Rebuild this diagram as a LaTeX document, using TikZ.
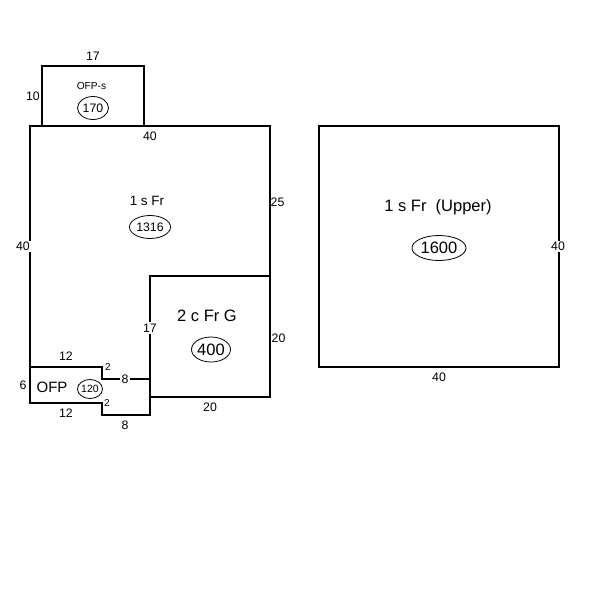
\documentclass[tikz,border=0pt]{standalone}
\usepackage{fontspec}
\setmainfont{Liberation Sans}
\usetikzlibrary{shapes.geometric}
\tikzset{
  wall/.style={draw=black,line width=2pt,line cap=rect,line join=miter},
  dim/.style={font=\fontsize{12.3}{14}\selectfont,inner sep=0.5pt,text=black},
  dimw/.style={dim,fill=white,inner sep=1.5pt},
  dimsmall/.style={font=\fontsize{10}{12}\selectfont,inner sep=0pt},
  lbl/.style={font=\fontsize{13.5}{16}\selectfont,inner sep=0pt},
  lblbig/.style={font=\fontsize{16.5}{18}\selectfont,inner sep=0pt},
  lblofp/.style={font=\fontsize{15}{18}\selectfont,inner sep=0pt},
  lblsmall/.style={font=\fontsize{10.2}{12}\selectfont,inner sep=0pt},
  area/.style={draw=black,line width=0.8pt,ellipse,inner sep=0pt,font=\fontsize{12.3}{14}\selectfont},
}
\begin{document}
\begin{tikzpicture}[x=1pt,y=-1pt]
\useasboundingbox (0,0) rectangle (600,600);
\fill[white] (0,0) rectangle (600,600);
% walls
\coordinate (a) at (30,126);\coordinate (b) at (270,126);\coordinate (c) at (270,397);
\coordinate (d) at (150,397);\coordinate (e) at (150,276);\coordinate (f) at (270,276);
\coordinate (g) at (150,415);\coordinate (h) at (102,415);\coordinate (i) at (102,403);
\coordinate (j) at (30,403);\coordinate (k) at (30,367);\coordinate (l) at (102,367);
\coordinate (m) at (102,379);\coordinate (n) at (150,379);
\coordinate (o) at (42,126);\coordinate (p) at (42,66);\coordinate (q) at (144,66);\coordinate (r) at (144,126);
\coordinate (s) at (319,126);\coordinate (t) at (559,126);\coordinate (u) at (559,367);\coordinate (v) at (319,367);
\draw[wall] (a)--(b)--(c)--(d);
\draw[wall] (f)--(e)--(g)--(h)--(i)--(j)--(a);
\draw[wall] (k)--(l)--(m)--(n);
\draw[wall] (o)--(p)--(q)--(r);
\draw[wall] (s)--(t)--(u)--(v)--cycle;
% dimensions
\node[dim] (d1) at (93,56.5) {17};
\node[dim] (d2) at (33,96) {10};
\node[dim] (d3) at (150,136.5) {40};
\node[dimw] (d4) at (23,246.5) {40};
\node[dim] (d5) at (277.5,202) {25};
\node[dim] (d6) at (278.5,338) {20};
\node[dimw] (d7) at (150,328) {17};
\node[dim] (d8) at (210,407.5) {20};
\node[dim] (d9) at (66,356.5) {12};
\node[dim] (d10) at (66,413.5) {12};
\node[dim] (d11) at (23,385) {6};
\node[dimw] (d12) at (125,379.5) {8};
\node[dim] (d13) at (125,425.5) {8};
\node[dimsmall] (d14) at (108,367.5) {2};
\node[dimsmall] (d15) at (107,403.5) {2};
\node[dimw] (d16) at (558,246.5) {40};
\node[dim] (d17) at (439,377.5) {40};
% room labels
\node[lblsmall] (t1) at (91.5,85.5) {OFP-s};
\node[area,minimum width=31pt,minimum height=23pt] (e1) at (93,108) {170};
\node[lbl] (t2) at (147,200.5) {1 s Fr};
\node[area,minimum width=41pt,minimum height=23pt] (e2) at (150,227) {1316};
\node[lblbig] (t3) at (207,315.5) {2 c Fr G};
\node[area,minimum width=38pt,minimum height=25pt,font=\fontsize{16.5}{18}\selectfont] (e3) at (211,349.5) {400};
\node[lblofp] (t4) at (52,387) {OFP};
\node[area,minimum width=25pt,minimum height=19pt,font=\fontsize{10.5}{12}\selectfont] (e4) at (90,389) {120};
\node[lblbig] (t5) at (438,207.5) {1 s Fr\ \ (Upper)};
\node[area,minimum width=54pt,minimum height=25pt,font=\fontsize{16.5}{18}\selectfont] (e5) at (439,248) {1600};
\end{tikzpicture}
\end{document}
